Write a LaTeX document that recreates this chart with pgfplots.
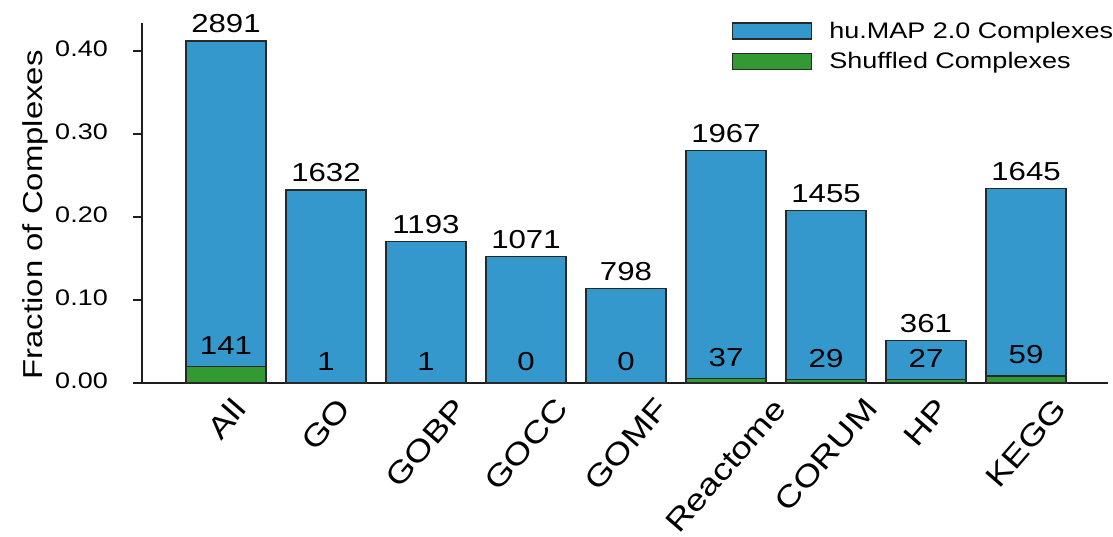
\documentclass[border=0pt]{standalone}
\usepackage{pgfplots}
\pgfplotsset{compat=1.18}
\usepackage{pgfplotstable}
\usepackage{graphicx}
\usepackage{fontspec}
\setmainfont[FakeStretch=1.2]{Liberation Sans}

\definecolor{humapblue}{RGB}{52,152,204}
\definecolor{shufgreen}{RGB}{51,153,51}
\definecolor{edgegray}{RGB}{40,40,40}
\definecolor{spine}{RGB}{30,30,30}

% fraction of complexes enriched per annotation source, with raw counts
\pgfplotstableread{
x frac n
0 0.4120 2891
1 0.2326 1632
2 0.1700 1193
3 0.1526 1071
4 0.1137 798
5 0.2803 1967
6 0.2074 1455
7 0.0514 361
8 0.2344 1645
}\humaptab
\pgfplotstableread{
x frac n
0 0.0201 141
1 0.0001 1
2 0.0001 1
3 0.0000 0
4 0.0000 0
5 0.0053 37
6 0.0041 29
7 0.0038 27
8 0.0084 59
}\shuftab

\newcommand{\rl}[1]{\rotatebox{49}{#1}}

\pgfplotsset{
  barlegend/.style={legend image code/.code={\draw[##1] (0pt,-8pt) rectangle (79pt,8pt);}},
}

\begin{document}
\begin{tikzpicture}
\begin{axis}[
  at={(142pt,-383pt)}, anchor=south west,
  scale only axis, width=966pt, height=360pt,
  xmin=-0.84, xmax=8.82, ymin=0, ymax=0.4337,
  clip=false,
  axis x line*=bottom, axis y line*=left,
  axis line style={line width=1.5pt, color=spine},
  ytick={0,0.1,0.2,0.3,0.4},
  ytick align=outside, major tick length=9pt,
  ytick style={line width=1.5pt, color=spine},
  yticklabel style={font=\fontsize{22.5}{27}\selectfont, inner sep=0pt, yshift=2.5pt, xshift=-25pt,
    /pgf/number format/.cd, fixed, fixed zerofill, precision=2, assume math mode=true},
  xtick={0,1,2,3,4,5,6,7,8},
  xticklabels={\rl{All},\rl{GO},\rl{GOBP},\rl{GOCC},\rl{GOMF},\rl{Reactome},\rl{CORUM},\rl{HP},\rl{KEGG}},
  xtick style={draw=none},
  xticklabel style={font=\fontsize{30.3}{36}\selectfont, anchor=north, inner sep=0pt, yshift=-13pt},
  ylabel={Fraction of Complexes},
  ylabel style={font=\fontsize{27.4}{33}\selectfont, at={(rel axis cs:-0.1035,0.467)}, anchor=base, inner sep=0pt},
  legend style={draw=none, fill=none, at={(rel axis cs:0.6108,1.0028)}, anchor=north west,
    inner sep=0pt, font=\fontsize{22.5}{27}\selectfont, row sep=12.5pt,
    nodes={inner sep=0pt}, column sep=0pt},
  legend cell align=left,
]
\addplot[ybar, bar width=0.8, bar shift=0pt, fill=humapblue, draw=edgegray, line width=1.2pt,
  barlegend,
  nodes near coords, point meta=explicit symbolic,
  nodes near coords style={font=\fontsize{26}{31}\selectfont, anchor=south, inner sep=0pt, yshift=7.4pt, text=black}]
  table[x=x, y=frac, meta=n] {\humaptab};
\addlegendentry{\hspace{17pt}hu.MAP 2.0 Complexes}
\addplot[ybar, bar width=0.8, bar shift=0pt, fill=shufgreen, draw=edgegray, line width=1.2pt,
  barlegend,
  nodes near coords, point meta=explicit symbolic,
  nodes near coords style={font=\fontsize{26}{31}\selectfont, anchor=south, inner sep=0pt, yshift=11.7pt, text=black}]
  table[x=x, y=frac, meta=n] {\shuftab};
\addlegendentry{\hspace{17pt}Shuffled Complexes}
\end{axis}
\pgfresetboundingbox
\useasboundingbox (0pt,0pt) rectangle (1113pt,-536pt);
\end{tikzpicture}
\end{document}
